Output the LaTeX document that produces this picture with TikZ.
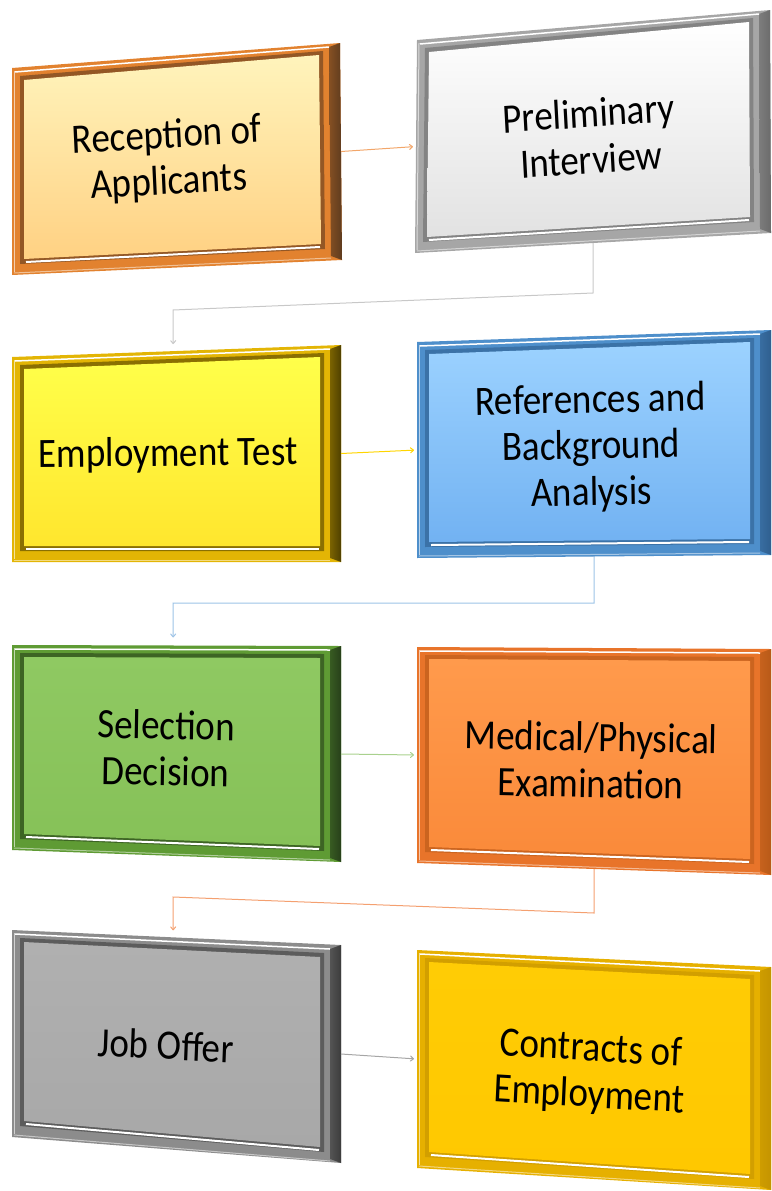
\documentclass[tikz,border=0pt]{standalone}
\usepackage{fontspec}
\setmainfont{Carlito}
\usetikzlibrary{calc,arrows.meta}

% rim, shadow side and body colours of the steps
\definecolor{recrim}{HTML}{E2822F} \definecolor{recdark}{HTML}{5E3B1E}
\definecolor{rectop}{HTML}{FFF4BC} \definecolor{recbot}{HTML}{FFD183}
\definecolor{prerim}{HTML}{A6A6A6} \definecolor{predark}{HTML}{6B6B6B}
\definecolor{pretop}{HTML}{FFFFFF} \definecolor{prebot}{HTML}{E2E2E2}
\definecolor{emprim}{HTML}{E3B505} \definecolor{empdark}{HTML}{4F4000}
\definecolor{emptop}{HTML}{FFFF4A} \definecolor{empbot}{HTML}{FFE62E}
\definecolor{refrim}{HTML}{4E8FCB} \definecolor{refdark}{HTML}{2F5F8F}
\definecolor{reftop}{HTML}{9CD2FF} \definecolor{refbot}{HTML}{72B2F2}
\definecolor{selrim}{HTML}{5F9B34} \definecolor{seldark}{HTML}{27401A}
\definecolor{seltop}{HTML}{8FC962} \definecolor{selbot}{HTML}{86C158}
\definecolor{medrim}{HTML}{E8742A} \definecolor{meddark}{HTML}{B85A18}
\definecolor{medtop}{HTML}{FF9A4C} \definecolor{medbot}{HTML}{FA8A3A}
\definecolor{jobrim}{HTML}{8C8C8C} \definecolor{jobdark}{HTML}{3C3C3C}
\definecolor{jobtop}{HTML}{B0B0B0} \definecolor{jobbot}{HTML}{A8A8A8}
\definecolor{conrim}{HTML}{E6B000} \definecolor{condark}{HTML}{C49400}
\definecolor{contop}{HTML}{FFCC05} \definecolor{conbot}{HTML}{FFC800}

% connector colours
\definecolor{recline}{HTML}{F2A66A}
\definecolor{preline}{HTML}{C8C8C8}
\definecolor{empline}{HTML}{FFD500}
\definecolor{refline}{HTML}{9DC3E6}
\definecolor{selline}{HTML}{A9D18E}
\definecolor{medline}{HTML}{F4A070}
\definecolor{jobline}{HTML}{A6A6A6}

\tikzset{
  steptext/.style={align=center, font=\fontsize{37}{41}\selectfont, inner sep=0pt, yscale=1.13},
  link/.style={line width=1pt, -{To[length=4pt,width=6pt]}}
}

% bevelled frame: name, then corners nw, ne, se, sw
\newcommand{\stepframe}[5]{%
  \coordinate (#1-nw) at #2;
  \coordinate (#1-ne) at #3;
  \coordinate (#1-se) at #4;
  \coordinate (#1-sw) at #5;
  % rim
  \fill[#1rim] (#1-nw) -- (#1-ne) -- (#1-se) -- (#1-sw) -- cycle;
  % shadow side on the right
  \shade[left color=#1dark!70!#1rim, right color=#1dark] (#1-ne) -- (#1-se) -- ($(#1-se)+(-11,-4)$) -- ($(#1-ne)+(-11,4)$) -- cycle;
  % highlights on the rim
  \draw[white, line width=1.5pt] ($(#1-nw)+(3,4)$) -- ($(#1-ne)+(-11,4)$);
  \draw[white!60!#1rim, line width=1pt] ($(#1-nw)+(2,3)$) -- ($(#1-sw)+(2,-3)$);
  \draw[white!50!#1rim, line width=1pt] ($(#1-sw)+(2,-2)$) -- ($(#1-se)+(-11,-2)$);
  % inner bevel
  \fill[#1dark!60!#1rim] ($(#1-nw)+(8,8)$) -- ($(#1-ne)+(-17,8)$) -- ($(#1-se)+(-17,-11)$) -- ($(#1-sw)+(8,-11)$) -- cycle;
  % body
  \shade[top color=#1top, bottom color=#1bot] ($(#1-nw)+(12,12)$) -- ($(#1-ne)+(-21,12)$) -- ($(#1-se)+(-21,-16)$) -- ($(#1-sw)+(12,-16)$) -- cycle;
  \draw[white, line width=2pt] ($(#1-sw)+(14,-13)$) -- ($(#1-se)+(-22,-13)$);
}

\begin{document}
\begin{tikzpicture}[x=1pt, y=-1pt]
    \useasboundingbox (0,0) rectangle (771,1191);

    % Frames
    \stepframe{rec}{(12,68)}{(340,43)}{(342,260)}{(12,275)}
    \stepframe{pre}{(417,40)}{(770,10)}{(771,233)}{(415,253)}
    \stepframe{emp}{(12,357)}{(341,345)}{(341,562)}{(12,562)}
    \stepframe{ref}{(417,342)}{(771,330)}{(771,555)}{(417,558)}
    \stepframe{sel}{(12,645)}{(341,646)}{(341,862)}{(12,850)}
    \stepframe{med}{(417,647)}{(771,649)}{(771,875)}{(417,863)}
    \stepframe{job}{(12,930)}{(341,945)}{(341,1163)}{(12,1137)}
    \stepframe{con}{(417,950)}{(771,967)}{(771,1190)}{(417,1168)}

    % Step labels
    \node[steptext, rotate=3] (rec) at (168,160) {Reception of\\Applicants};
    \node[steptext, rotate=3.5] (pre) at (590,136) {Preliminary\\Interview};
    \node[steptext, rotate=0.5] (emp) at (168,455) {Employment Test};
    \node[steptext, rotate=1] (ref) at (591,448) {References and\\Background\\Analysis};
    \node[steptext, rotate=-1] (sel) at (166,748) {Selection\\Decision};
    \node[steptext, rotate=-1] (med) at (591,760) {Medical/Physical\\Examination};
    \node[steptext, rotate=-2.5] (job) at (166,1045) {Job Offer};
    \node[steptext, rotate=-3] (con) at (590,1073) {Contracts of\\Employment};

    % Connectors
    \draw[link, recline, shorten >=3pt] ($(rec-ne)!0.5!(rec-se)$) -- ($(pre-nw)!0.5!(pre-sw)$);
    \draw[link, preline, shorten >=7pt] ($(pre-sw)!0.5!(pre-se)$) -- (593,293) -- (173,310) -- ($(emp-nw)!0.49!(emp-ne)$);
    \draw[link, empline, shorten >=3pt] ($(emp-ne)!0.5!(emp-se)$) -- ($(ref-nw)!0.5!(ref-sw)$);
    \draw[link, refline, shorten >=8pt] ($(ref-sw)!0.5!(ref-se)$) -- (594,603) -- (173,603) -- ($(sel-nw)!0.49!(sel-ne)$);
    \draw[link, selline, shorten >=3pt] ($(sel-ne)!0.5!(sel-se)$) -- ($(med-nw)!0.5!(med-sw)$);
    \draw[link, medline, shorten >=7pt] ($(med-sw)!0.5!(med-se)$) -- (594,913) -- (173,897) -- ($(job-nw)!0.49!(job-ne)$);
    \draw[link, jobline, shorten >=3pt] ($(job-ne)!0.5!(job-se)$) -- ($(con-nw)!0.5!(con-sw)$);
\end{tikzpicture}
\end{document}
